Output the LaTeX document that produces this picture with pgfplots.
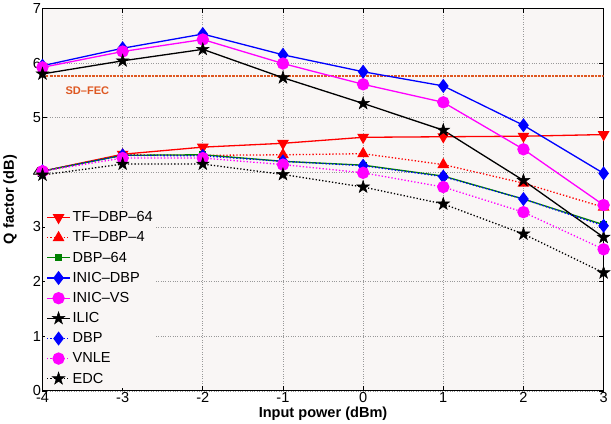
\documentclass[border=0pt]{standalone}
\usepackage{fontspec}
\setmainfont{Liberation Sans}
\usepackage{pgfplots}
\pgfplotsset{compat=1.18}

\definecolor{axbg}{RGB}{249,246,245}
\definecolor{sdfec}{RGB}{222,88,34}
\definecolor{dkgreen}{RGB}{0,128,0}
\definecolor{mag}{RGB}{255,0,255}
\definecolor{pureblue}{RGB}{0,0,255}
\definecolor{purered}{RGB}{255,0,0}

% filled five-point star, like MATLAB's pentagram
\pgfdeclareplotmark{pentagram}{%
  \pgfpathmoveto{\pgfpointpolar{90}{1.2\pgfplotmarksize}}%
  \pgfpathlineto{\pgfpointpolar{126}{0.46\pgfplotmarksize}}%
  \pgfpathlineto{\pgfpointpolar{162}{1.2\pgfplotmarksize}}%
  \pgfpathlineto{\pgfpointpolar{198}{0.46\pgfplotmarksize}}%
  \pgfpathlineto{\pgfpointpolar{234}{1.2\pgfplotmarksize}}%
  \pgfpathlineto{\pgfpointpolar{270}{0.46\pgfplotmarksize}}%
  \pgfpathlineto{\pgfpointpolar{306}{1.2\pgfplotmarksize}}%
  \pgfpathlineto{\pgfpointpolar{342}{0.46\pgfplotmarksize}}%
  \pgfpathlineto{\pgfpointpolar{18}{1.2\pgfplotmarksize}}%
  \pgfpathlineto{\pgfpointpolar{54}{0.46\pgfplotmarksize}}%
  \pgfpathclose
  \pgfusepathqfillstroke}

\pgfplotstableread{
x    tf64 tf4  dbp64 inicdbp inicvs ilic dbp  vnle edc
-4   4.02 4.02 4.02  5.95    5.92   5.80 4.02 4.02 3.95
-3   4.33 4.32 4.31  6.27    6.21   6.04 4.31 4.26 4.15
-2   4.46 4.31 4.32  6.53    6.43   6.25 4.30 4.26 4.15
-1   4.53 4.32 4.20  6.15    5.99   5.73 4.20 4.14 3.96
0    4.64 4.34 4.13  5.84    5.61   5.26 4.12 3.99 3.73
1    4.65 4.14 3.93  5.58    5.28   4.77 3.92 3.73 3.42
2    4.66 3.80 3.51  4.86    4.42   3.85 3.51 3.27 2.87
3    4.69 3.36 3.04  3.98    3.40   2.81 3.02 2.59 2.16
}\qfactor

\begin{document}
\begin{tikzpicture}
\begin{axis}[
    width=559pt, height=381pt,
    scale only axis,
    xmin=-4, xmax=3, ymin=0, ymax=7,
    xtick={-4,...,3}, ytick={0,...,7},
    axis background/.style={fill=axbg},
    axis line style={line width=1.2pt},
    tick style={black, line width=0.6pt},
    tick align=inside,
    major tick length=5pt,
    grid=major,
    major grid style={gray!80, dotted, line width=0.6pt},
    font=\fontsize{14.5}{17}\selectfont,
    tick label style={font=\fontsize{14.5}{17}\selectfont},
    /pgf/number format/assume math mode=true,
    xticklabel style={yshift=2pt},
    yticklabel style={xshift=2pt},
    xlabel={\textbf{Input power (dBm)}},
    ylabel={\textbf{Q factor (dB)}},
    xlabel style={yshift=3pt},
    ylabel style={yshift=9pt},
    legend cell align=left,
    legend style={at={(0.005,0.008)}, anchor=south west, draw=none, fill=axbg,
        font=\fontsize{14.5}{17}\selectfont, row sep=4.5pt, inner sep=1pt},
    legend image code/.code={\draw[mark repeat=2,mark phase=2,#1]
        plot coordinates {(0cm,0cm) (0.4cm,0cm) (0.8cm,0cm)};},
    every axis plot/.append style={line width=1.3pt},
]
% SD-FEC threshold
\addplot[sdfec, line width=2pt, densely dashdotted, forget plot]
    coordinates {(-4,5.77) (-2,5.77) (0,5.77) (3,5.77)};
\node[text=sdfec, font=\bfseries\fontsize{11}{13}\selectfont] at (axis cs:-3.44,5.50) {SD--FEC};

\addplot[color=purered, mark=triangle*, mark options={solid, rotate=180}, mark size=5.5pt]
    table[x=x, y=tf64] {\qfactor};
\addlegendentry{TF--DBP--64}
\addplot[color=purered, dotted, mark=triangle*, mark options={solid}, mark size=5.5pt]
    table[x=x, y=tf4] {\qfactor};
\addlegendentry{TF--DBP--4}
\addplot[color=dkgreen, mark=square*, mark options={solid}, mark size=2.8pt]
    table[x=x, y=dbp64] {\qfactor};
\addlegendentry{DBP--64}
\addplot[color=pureblue, mark=diamond*, mark options={solid}, mark size=6pt]
    table[x=x, y=inicdbp] {\qfactor};
\addlegendentry{INIC--DBP}
\addplot[color=mag, mark=*, mark options={solid}, mark size=5.5pt]
    table[x=x, y=inicvs] {\qfactor};
\addlegendentry{INIC--VS}
\addplot[color=black, mark=pentagram, mark options={solid, line width=0.5pt}, mark size=5.5pt]
    table[x=x, y=ilic] {\qfactor};
\addlegendentry{ILIC}
\addplot[color=pureblue, dotted, mark=diamond*, mark options={solid}, mark size=6pt]
    table[x=x, y=dbp] {\qfactor};
\addlegendentry{DBP}
\addplot[color=mag, dotted, mark=*, mark options={solid}, mark size=5.5pt]
    table[x=x, y=vnle] {\qfactor};
\addlegendentry{VNLE}
\addplot[color=black, dotted, mark=pentagram, mark options={solid, line width=0.5pt}, mark size=5.5pt]
    table[x=x, y=edc] {\qfactor};
\addlegendentry{EDC}
\end{axis}
\end{tikzpicture}
\end{document}
